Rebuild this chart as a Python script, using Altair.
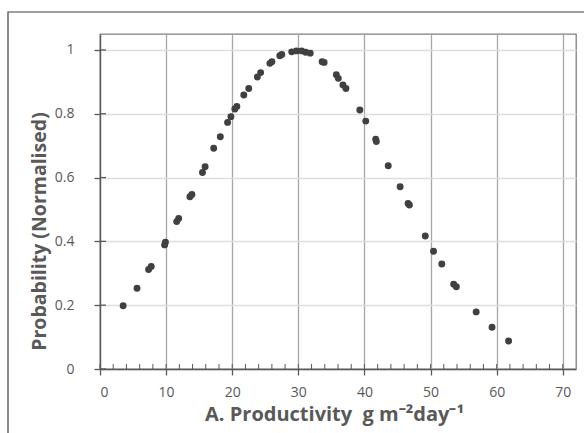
import altair as alt
import pandas as pd

# Data
productivity = [3.5, 5.6, 7.35, 7.75, 9.77, 9.9, 11.6, 11.9, 13.6, 13.9,
                15.5, 15.9, 17.2, 18.2, 19.3, 19.8, 20.4, 20.7, 21.75, 22.5,
                23.8, 24.3, 25.7, 26.0, 27.2, 27.5, 29.0, 29.7, 30.5, 31.1,
                31.8, 33.6, 33.9, 35.75, 36.05, 36.75, 37.2, 39.3, 40.2, 41.7,
                41.8, 43.6, 45.4, 46.6, 46.8, 49.2, 50.45, 51.7, 53.5, 53.9,
                56.9, 59.3, 61.8]
probability = [0.198, 0.253, 0.312, 0.321, 0.389, 0.397, 0.462, 0.472, 0.540, 0.547,
               0.616, 0.634, 0.692, 0.728, 0.773, 0.791, 0.815, 0.823, 0.859, 0.879,
               0.915, 0.929, 0.958, 0.963, 0.982, 0.986, 0.994, 0.997, 0.997, 0.993,
               0.990, 0.963, 0.961, 0.922, 0.911, 0.890, 0.879, 0.812, 0.777, 0.720,
               0.713, 0.637, 0.571, 0.519, 0.514, 0.417, 0.369, 0.329, 0.266, 0.258,
               0.179, 0.131, 0.088]

x_ticks = [0, 10, 20, 30, 40, 50, 60, 70]
x_minor = list(range(0, 72, 2))
y_ticks = [0, 0.2, 0.4, 0.6, 0.8, 1.0]

W, H = 476, 335
LFONT = "Open Sans"
TFONT = "Open Sans"
GRAY = "#595959"
x_title = "A. Productivity\u00a0\u00a0g m\u207b\u00b2day\u207b\u00b9"

df = pd.DataFrame({"x": productivity, "y": probability})
xs = alt.Scale(domain=[0, 72], nice=False)
ys = alt.Scale(domain=[0, 1.05], nice=False)

points = alt.Chart(df).mark_circle(size=48, color="#404040", opacity=1).encode(
    x=alt.X("x:Q", scale=xs,
            axis=alt.Axis(values=x_ticks, title=x_title,
                          grid=True, gridColor="#a6a6a6", gridWidth=1.3,
                          domainColor=GRAY, domainWidth=1.3,
                          tickColor=GRAY, tickSize=6, tickWidth=1.3,
                          labelColor=GRAY, labelFontSize=14, labelFont=LFONT, labelPadding=10,
                          titleColor=GRAY, titleFontSize=20, titleFont=TFONT, titleFontWeight="bold",
                          titleX=234, titleY=51, titleBaseline="alphabetic", titleAlign="center")),
    y=alt.Y("y:Q", scale=ys,
            axis=alt.Axis(values=y_ticks, format="~g", title="Probability (Normalised)",
                          grid=True, gridColor="#dedede", gridWidth=1.3,
                          domainColor=GRAY, domainWidth=1.3,
                          tickColor=GRAY, tickSize=6, tickWidth=1.3,
                          labelColor=GRAY, labelFontSize=14, labelFont=LFONT, labelPadding=20,
                          titleColor=GRAY, titleFontSize=19.5, titleFont=TFONT, titleFontWeight="bold",
                          titleX=-55, titleY=197, titleBaseline="alphabetic", titleAlign="center",
                          titleAngle=270)),
)

minor = alt.Chart(pd.DataFrame({"x": x_minor})).mark_rule(color=GRAY, strokeWidth=1).encode(
    x=alt.X("x:Q", scale=xs),
    y=alt.value(H - 5), y2=alt.value(H),
)

yinner = alt.Chart(pd.DataFrame({"y": y_ticks})).mark_rule(color=GRAY, strokeWidth=1.3).encode(
    y=alt.Y("y:Q", scale=ys),
    x=alt.value(0), x2=alt.value(6),
)

frame = alt.Chart(pd.DataFrame({"a": [0]})).mark_rect(
    fillOpacity=0, stroke="#404040", strokeWidth=1.2
).encode(x=alt.value(-92), x2=alt.value(W + 40), y=alt.value(-22), y2=alt.value(H + 100))

chart = alt.layer(frame, points, minor, yinner).properties(
    width=W, height=H,
    autosize=alt.AutoSizeParams(type="none"),
    padding={"left": 100, "top": 34, "right": 8, "bottom": 64},
    background="white",
).configure_view(stroke="#7f7f7f", strokeWidth=1.3)

chart.save("out.html", embed_options={"renderer": "svg", "actions": False})
